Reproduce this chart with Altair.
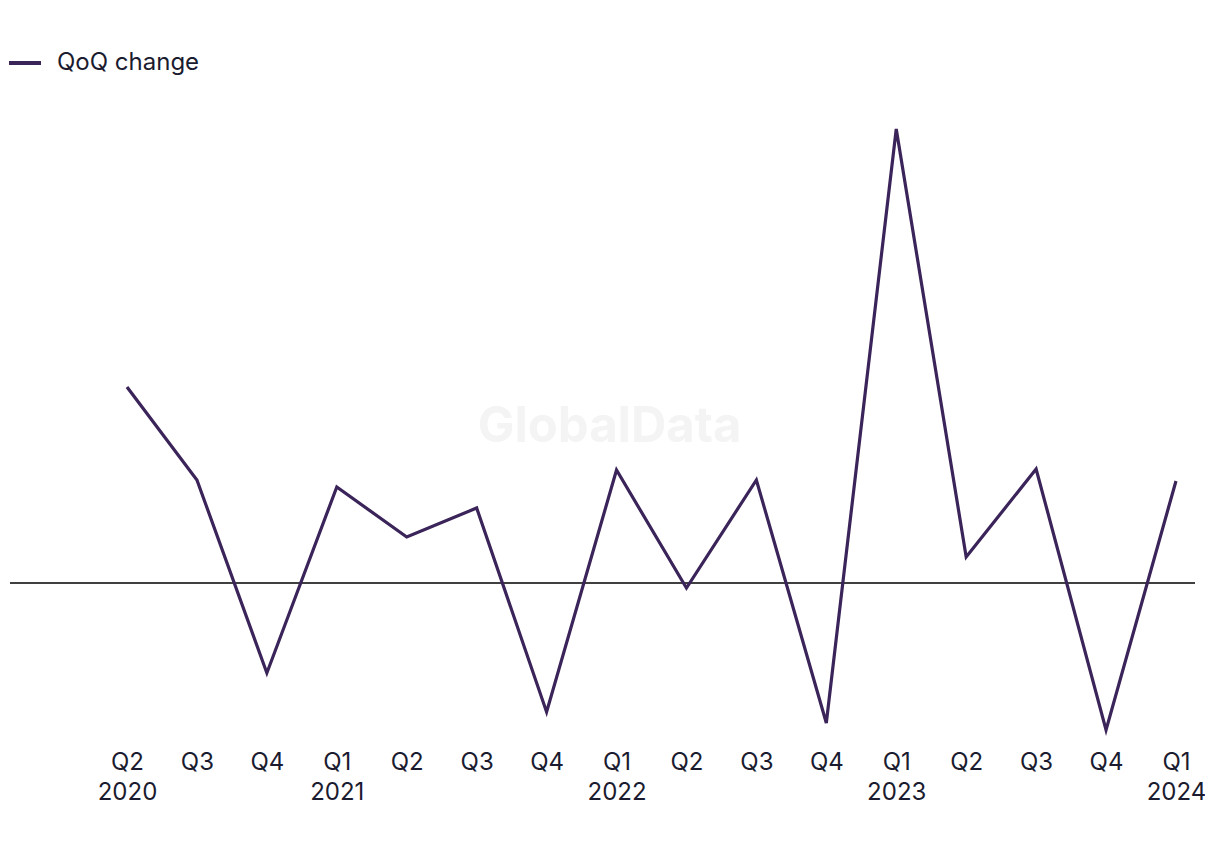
import altair as alt
import pandas as pd
import json

quarters = ["Q2", "Q3", "Q4", "Q1", "Q2", "Q3", "Q4", "Q1", "Q2", "Q3", "Q4", "Q1", "Q2", "Q3", "Q4", "Q1"]
years = ["2020", "", "", "2021", "", "", "", "2022", "", "", "", "2023", "", "", "", "2024"]
qoq_change = [19.6, 10.3, -9.0, 9.6, 4.6, 7.5, -12.9, 11.3, -0.5, 10.3, -14.0, 45.4, 2.6, 11.4, -14.7, 10.2]
series_name = "QoQ change"

idx = list(range(len(quarters)))
df = pd.DataFrame({"idx": idx, "value": qoq_change, "series": [series_name] * len(idx)})

label_strings = [q + ("|" + y if y else "") for q, y in zip(quarters, years)]
label_expr = "split(" + json.dumps(label_strings).replace('"', "'") + "[datum.value], '|')"

FONT = "Inter"
TEXT = "#1b1b2f"
LINE = "#3a2459"

x_scale = alt.Scale(domain=[-1.673, 15.272], nice=False, zero=False)
y_scale = alt.Scale(domain=[-15.7, 48.3], nice=False, zero=False)

x_axis = alt.Axis(values=idx, labelExpr=label_expr, domain=False, ticks=False, grid=False,
                  labelFont=FONT, labelFontSize=24, labelColor=TEXT, labelPadding=10,
                  labelLineHeight=30, labelBaseline="top", labelFlush=False, labelOverlap=False)

line = alt.Chart(df).mark_line(strokeWidth=3.2, color=LINE).encode(
    x=alt.X("idx:Q", scale=x_scale, title=None, axis=x_axis),
    y=alt.Y("value:Q", scale=y_scale, title=None, axis=None),
    color=alt.Color("series:N", scale=alt.Scale(range=[LINE]),
                    legend=alt.Legend(title=None, orient="none", legendX=-3, legendY=-55,
                                      symbolType="stroke", symbolSize=1024, symbolStrokeWidth=4,
                                      labelFont=FONT, labelFontSize=24, labelColor=TEXT, labelOffset=14)),
)

zero = alt.Chart(pd.DataFrame({"y": [0]})).mark_rule(color="#000000", strokeWidth=1.6).encode(
    y=alt.Y("y:Q", scale=y_scale, title=None, axis=None)
)

wm = alt.Chart(pd.DataFrame({"x": [6.9], "y": [15.6], "t": ["GlobalData"]})).mark_text(
    font=FONT, fontSize=49, fontWeight="bold", color="#f4f4f4"
).encode(x=alt.X("x:Q", scale=x_scale, title=None, axis=x_axis),
         y=alt.Y("y:Q", scale=y_scale, title=None, axis=None), text="t:N")

chart = alt.layer(wm, zero, line).properties(
    width=1185, height=640,
    padding={"left": 2, "top": 92, "right": 10, "bottom": 100},
    autosize=alt.AutoSizeParams(type="none"),
    background="white",
).configure_view(stroke=None)

chart.save("out.html", embed_options={"renderer": "svg", "actions": False})
